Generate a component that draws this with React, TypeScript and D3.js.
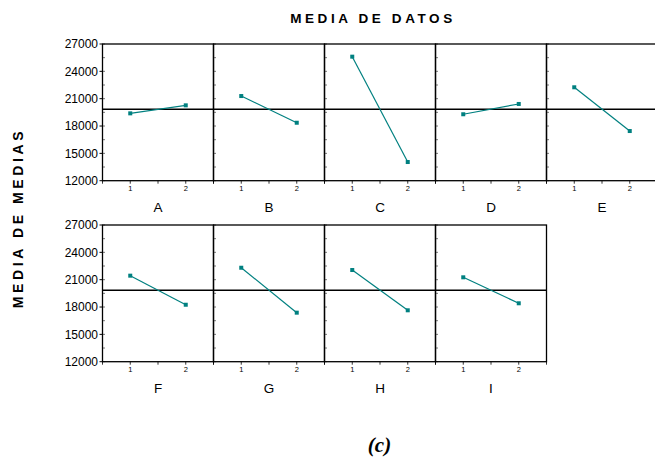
import React from "react";
import * as d3 from "d3";

const factors = ["A", "B", "C", "D", "E", "F", "G", "H", "I"];
const level1 = [19390, 21290, 25610, 19290, 22250, 21440, 22310, 22060, 21260];
const level2 = [20270, 18360, 14050, 20420, 17450, 18250, 17380, 17640, 18410];
const levels = [1, 2];
const grandMean = 19840;
const yTicks = [12000, 15000, 18000, 21000, 24000, 27000];
const title = "MEDIA DE DATOS";
const yTitle = "MEDIA DE MEDIAS";
const caption = "(c)";

const W = 655;
const H = 458;
const panelW = 111;
const x0 = 102.5;
const rowTops = [44, 225];
const panelH = 136.7;
const perRow = 5;
const teal = "#008080";
const font = "Liberation Sans, Arial, sans-serif";

export default function App() {
  const x = d3.scaleLinear().domain([0.5, 2.5]).range([0, panelW]);
  const minorTicks = d3.range(12000, 27001, 1500);
  const xTickAll = [0.5, 1, 1.5, 2, 2.5];
  return (
    <svg width={W} height={H} style={{ position: "absolute", left: 0, top: 0, background: "#fff" }}>
      <text x={373} y={23} textAnchor="middle" fontFamily={font} fontWeight="bold" fontSize={13.5} letterSpacing={3.6}>
        {title.split("").join("")}
      </text>
      <text
        transform={`translate(23,218) rotate(-90)`}
        textAnchor="middle"
        fontFamily={font}
        fontWeight="bold"
        fontSize={14}
        letterSpacing={3.6}
      >
        {yTitle}
      </text>
      {[0, 1].map((row) => {
        const top = rowTops[row];
        const y = d3.scaleLinear().domain([12000, 27000]).range([top + panelH, top]);
        const idxs = factors.map((_, i) => i).filter((i) => Math.floor(i / perRow) === row);
        return (
          <g key={row}>
            {/* y labels */}
            {yTicks.map((t) => (
              <g key={t}>
                <line x1={x0 - 3} x2={x0} y1={y(t)} y2={y(t)} stroke="#000" strokeWidth={1} />
                <text x={x0 - 4.5} y={y(t)} dy="0.35em" textAnchor="end" fontFamily={font} fontSize={12}>
                  {t}
                </text>
              </g>
            ))}
            {idxs.map((i) => {
              const col = i % perRow;
              const left = x0 + col * panelW;
              const pts: [number, number][] = [
                [left + x(levels[0]), y(level1[i])],
                [left + x(levels[1]), y(level2[i])],
              ];
              return (
                <g key={i}>
                  {/* minor ticks inside left border */}
                  {minorTicks.map((t) => (
                    <line key={t} x1={left} x2={left + 2.5} y1={y(t)} y2={y(t)} stroke="#555" strokeWidth={0.8} />
                  ))}
                  {/* bottom ticks */}
                  {xTickAll.map((t) => (
                    <line key={t} x1={left + x(t)} x2={left + x(t)} y1={top + panelH} y2={top + panelH + 3} stroke="#000" strokeWidth={0.8} />
                  ))}
                  {levels.map((t) => (
                    <text key={t} x={left + x(t)} y={top + panelH + 10.5} textAnchor="middle" fontFamily={font} fontSize={7.5}>
                      {t}
                    </text>
                  ))}
                  {/* frame */}
                  <rect x={left} y={top} width={panelW} height={panelH} fill="none" stroke="#000" strokeWidth={1.3} />
                  {/* grand mean */}
                  <line x1={left} x2={left + panelW} y1={y(grandMean)} y2={y(grandMean)} stroke="#000" strokeWidth={1.3} />
                  <path d={d3.line()(pts) || ""} stroke={teal} strokeWidth={1.2} fill="none" />
                  {pts.map((p, k) => (
                    <rect key={k} x={p[0] - 2} y={p[1] - 2} width={4} height={4} fill={teal} />
                  ))}
                  <text x={left + panelW / 2} y={top + panelH + 31} textAnchor="middle" fontFamily={font} fontSize={13.5}>
                    {factors[i]}
                  </text>
                </g>
              );
            })}
          </g>
        );
      })}
      <text x={379.5} y={452} textAnchor="middle" fontFamily="Liberation Serif, Times New Roman, serif" fontWeight="bold" fontStyle="italic" fontSize={21}>
        {caption}
      </text>
    </svg>
  );
}
